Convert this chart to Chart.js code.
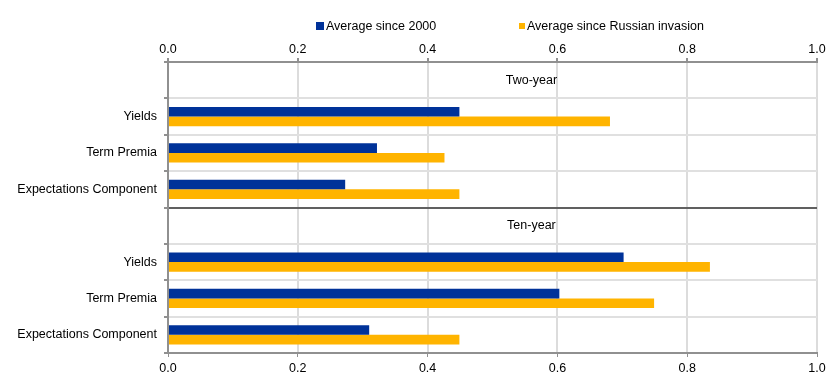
<!DOCTYPE html>
<html>
<head>
<meta charset="utf-8">
<script src="https://cdn.jsdelivr.net/npm/chart.js@4.4.1/dist/chart.umd.min.js"></script>
<style>
  html, body { margin: 0; padding: 0; background: #fff; }
  #wrap { width: 839px; height: 381px; }
</style>
</head>
<body>
<div id="wrap"><canvas id="chart" width="839" height="381"></canvas></div>
<script>
// rows: empty label rows carry the group headings
const categories = ['', 'Yields', 'Term Premia', 'Expectations Component',
                    '', 'Yields', 'Term Premia', 'Expectations Component'];
const since2000 = [null, 0.449, 0.322, 0.273, null, 0.702, 0.603, 0.310];
const sinceInvasion = [null, 0.681, 0.426, 0.449, null, 0.835, 0.749, 0.449];
const groupTitles = ['Two-year', 'Ten-year'];
const groupRows = [0, 4];
const seriesNames = ['Average since 2000', 'Average since Russian invasion'];

const blue = '#003299';
const orange = '#ffb400';
const font = { family: '"Liberation Sans", Arial, sans-serif', size: 12.5 };

// group headings inside the plot
const headings = {
  id: 'headings',
  afterDatasetsDraw(chart) {
    const ctx = chart.ctx;
    const x = chart.scales.x.getPixelForValue(0.56);
    ctx.save();
    ctx.font = font.size + 'px ' + font.family;
    ctx.fillStyle = '#000';
    ctx.textAlign = 'center';
    ctx.textBaseline = 'middle';
    groupTitles.forEach((t, i) => {
      ctx.fillText(t, x, chart.scales.y.getPixelForValue(groupRows[i]));
    });
    ctx.restore();
  }
};

// legend drawn by hand, the items are spread wider than the built in one allows
const topLegend = {
  id: 'topLegend',
  afterDraw(chart) {
    const ctx = chart.ctx;
    const xs = [316, 519];
    const sizes = [8, 6];
    ctx.save();
    ctx.font = font.size + 'px ' + font.family;
    ctx.textBaseline = 'middle';
    chart.data.datasets.forEach((ds, i) => {
      ctx.fillStyle = ds.backgroundColor;
      ctx.fillRect(xs[i], 26 - sizes[i] / 2, sizes[i], sizes[i]);
      ctx.fillStyle = '#000';
      ctx.fillText(ds.label, xs[i] + sizes[i] + 2, 27);
    });
    ctx.restore();
  }
};

new Chart(document.getElementById('chart'), {
  type: 'bar',
  data: {
    labels: categories,
    datasets: [
      { label: seriesNames[0], data: since2000, backgroundColor: blue,
        barPercentage: 1, categoryPercentage: 0.53 },
      { label: seriesNames[1], data: sinceInvasion, backgroundColor: orange,
        barPercentage: 1, categoryPercentage: 0.53 }
    ]
  },
  options: {
    indexAxis: 'y',
    responsive: false,
    animation: false,
    layout: { padding: { top: 40, right: 22, left: 0, bottom: 0 } },
    plugins: {
      legend: { display: false },
      tooltip: { enabled: false }
    },
    scales: {
      x: {
        position: 'top',
        min: 0, max: 1,
        ticks: { stepSize: 0.2, color: '#000', font: font, padding: 1,
                 callback: v => v.toFixed(1) },
        grid: { color: '#dcdcdc', lineWidth: 2, tickLength: 4, tickColor: '#909090' },
        border: { color: '#909090', width: 2 },
        afterFit: s => { s.height = 22; }
      },
      x2: {
        position: 'bottom',
        min: 0, max: 1,
        ticks: { stepSize: 0.2, color: '#000', font: font, padding: 4,
                 callback: v => v.toFixed(1) },
        grid: { drawOnChartArea: false, tickLength: 4, tickColor: '#909090' },
        border: { color: '#909090', width: 2 },
        afterFit: s => { s.height = 28; }
      },
      y: {
        ticks: { color: '#000', font: font, padding: 7 },
        grid: {
          offset: true,
          tickLength: 4,
          tickColor: '#909090',
          color: c => c.index === 4 ? '#606060' : '#e0e0e0',
          lineWidth: 2
        },
        border: { color: '#909090', width: 2 },
        afterFit: s => { s.width = 168; }
      }
    }
  },
  plugins: [headings, topLegend]
});
</script>
</body>
</html>
